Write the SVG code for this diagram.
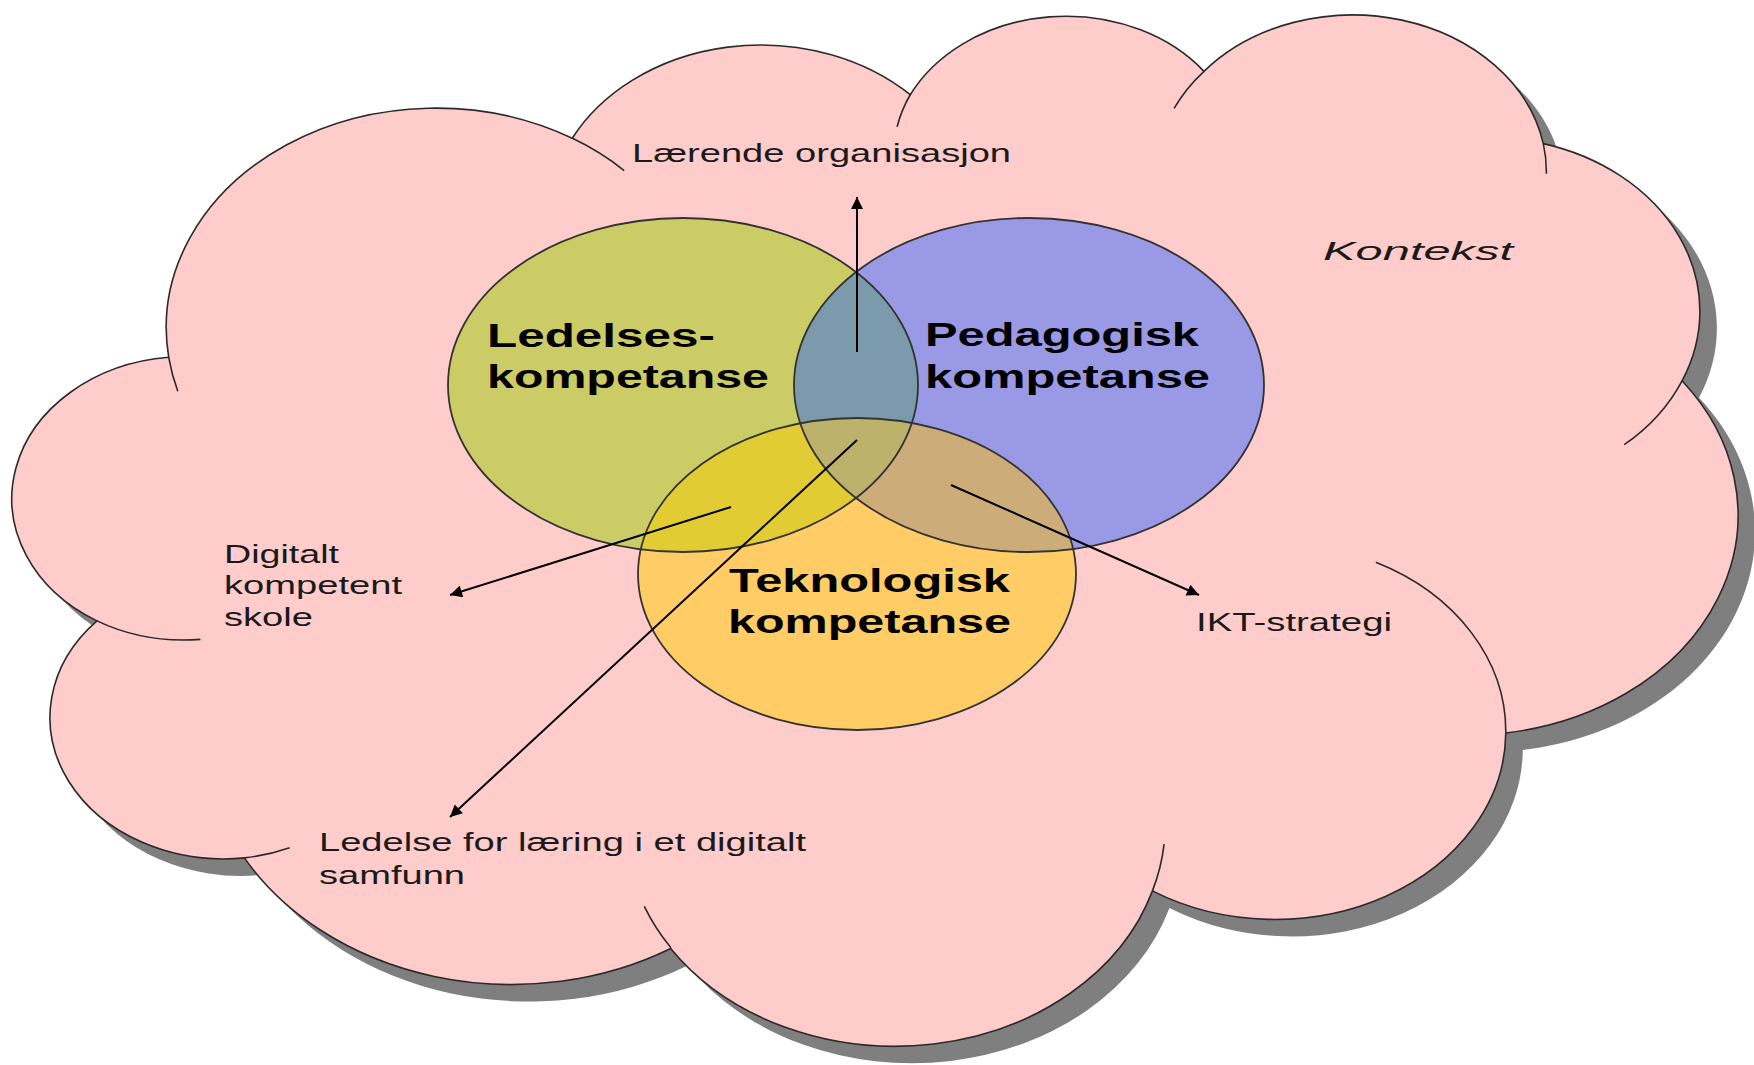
<svg xmlns="http://www.w3.org/2000/svg" width="1754" height="1065" viewBox="0 0 1754 1065">
<style>
.cl{fill:#ffcccc;stroke:#2a2a2a;stroke-width:1.6}
.fold{fill:none;stroke:#2a2a2a;stroke-width:1.6}
.ring{fill:none;stroke:#333;stroke-width:1.8}
.lab{font-family:"Liberation Sans",Arial,sans-serif;font-weight:bold;font-size:34px;fill:#000}
.txt{font-family:"Liberation Sans",Arial,sans-serif;font-size:26px;fill:#1a1a1a}
.con{stroke:#000;stroke-width:2;fill:none;marker-end:url(#ah)}
</style>
<defs>
<marker id="ah" viewBox="0 0 10 10" refX="10" refY="5" markerWidth="15" markerHeight="12" markerUnits="userSpaceOnUse" orient="auto"><path d="M0,0 L10,5 L0,10 z" fill="#000"/></marker>
<filter id="blur" x="-5%" y="-5%" width="110%" height="110%"><feGaussianBlur stdDeviation="1.5"/></filter>
<path id="cloudOuter" d="M3900,14370 A6753,9190 0 0 1 14005,5202 A5333,7267 0 0 1 22470,3380 A4365,5945 0 0 1 29826,2400 A4857,6595 0 0 1 38324,5426 A5333,7273 0 0 1 41798,15354 A6775,9220 0 0 1 37384,30097 A5785,7867 0 0 1 28535,36707 A6752,9215 0 0 1 16470,39120 A7720,10543 0 0 1 5795,35326 A4360,5918 0 0 1 2103,25404 A4345,5945 0 0 1 3900,14370 Z"/>
<ellipse id="eL" cx="683" cy="385" rx="235" ry="167"/>
<ellipse id="eP" cx="1029" cy="385" rx="235" ry="167"/>
<ellipse id="eT" cx="857" cy="574" rx="219" ry="156"/>
<clipPath id="cL"><use href="#eL"/></clipPath>
<clipPath id="cP"><use href="#eP"/></clipPath>
</defs>

<g id="cloud">
<g transform="translate(30,31) scale(0.039931,0.023889)" filter="url(#blur)"><use href="#cloudOuter" fill="#7f7f7f"/></g>
<g transform="translate(13,14) scale(0.039931,0.023889)">
<path class="cl" vector-effect="non-scaling-stroke" d="M3900,14370 A6753,9190 0 0 1 14005,5202 A5333,7267 0 0 1 22470,3380 A4365,5945 0 0 1 29826,2400 A4857,6595 0 0 1 38324,5426 A5333,7273 0 0 1 41798,15354 A6775,9220 0 0 1 37384,30097 A5785,7867 0 0 1 28535,36707 A6752,9215 0 0 1 16470,39120 A7720,10543 0 0 1 5795,35326 A4360,5918 0 0 1 2103,25404 A4345,5945 0 0 1 3900,14370 Z"/>
<path class="fold" vector-effect="non-scaling-stroke" d="M4693,26177 A4345,5945 0 0 1 2103,25404 M6928,34899 A4360,5918 0 0 1 5795,35326 M16478,39090 A6752,9215 0 0 1 15810,37351 M28827,34751 A6752,9215 0 0 1 28535,36707 M34129,22954 A5785,7867 0 0 1 37384,30097 M41798,15354 A5333,7273 0 0 1 40350,18029 M38324,5426 A4857,6595 0 0 1 38400,6690 M29078,3952 A4857,6595 0 0 1 29826,2400 M22141,4720 A4365,5945 0 0 1 22470,3380 M14000,5192 A6753,9190 0 0 1 15306,6552 M4127,15789 A6753,9190 0 0 1 3900,14370"/>
</g>
</g>

<g id="venn-fills">
<use href="#eL" fill="#cccc66"/>
<use href="#eP" fill="#9999e6"/>
<use href="#eT" fill="#ffcc66"/>
<use href="#eP" fill="#7b9aab" clip-path="url(#cL)"/>
<use href="#eT" fill="#e1cc33" clip-path="url(#cL)"/>
<use href="#eT" fill="#ccad7a" clip-path="url(#cP)"/>
<g clip-path="url(#cL)"><g clip-path="url(#cP)"><use href="#eT" fill="#bdb26c"/></g></g>
</g>

<g id="n-ledelse">
<use href="#eL" class="ring"/>
<text class="lab" x="487" y="347" textLength="228" lengthAdjust="spacingAndGlyphs">Ledelses-</text>
<text class="lab" x="487" y="388" textLength="282" lengthAdjust="spacingAndGlyphs">kompetanse</text>
</g>
<g id="n-pedagogisk">
<use href="#eP" class="ring"/>
<text class="lab" x="925" y="346" textLength="274" lengthAdjust="spacingAndGlyphs">Pedagogisk</text>
<text class="lab" x="925" y="388" textLength="285" lengthAdjust="spacingAndGlyphs">kompetanse</text>
</g>
<g id="n-teknologisk">
<use href="#eT" class="ring"/>
<text class="lab" x="729" y="592" textLength="281" lengthAdjust="spacingAndGlyphs">Teknologisk</text>
<text class="lab" x="728" y="633" textLength="283" lengthAdjust="spacingAndGlyphs">kompetanse</text>
</g>

<g id="connectors">
<line class="con" x1="857" y1="352" x2="857" y2="197"/>
<line class="con" x1="731" y1="507" x2="450" y2="595"/>
<line class="con" x1="857" y1="440" x2="450" y2="817"/>
<line class="con" x1="951" y1="485" x2="1199" y2="595"/>
</g>

<g id="n-laerende"><text class="txt" x="632" y="162" textLength="379" lengthAdjust="spacingAndGlyphs">Lærende organisasjon</text></g>
<g id="n-kontekst"><text class="txt" x="1323" y="260" font-size="32" font-style="italic" textLength="190" lengthAdjust="spacingAndGlyphs">Kontekst</text></g>
<g id="n-digitalt">
<text class="txt" x="224" y="563" textLength="115" lengthAdjust="spacingAndGlyphs">Digitalt</text>
<text class="txt" x="224" y="594" textLength="178" lengthAdjust="spacingAndGlyphs">kompetent</text>
<text class="txt" x="224" y="626" textLength="89" lengthAdjust="spacingAndGlyphs">skole</text>
</g>
<g id="n-ikt"><text class="txt" x="1196" y="631" textLength="196" lengthAdjust="spacingAndGlyphs">IKT-strategi</text></g>
<g id="n-ledelse-laering">
<text class="txt" x="319" y="851" textLength="487" lengthAdjust="spacingAndGlyphs">Ledelse for læring i et digitalt</text>
<text class="txt" x="319" y="884" textLength="146" lengthAdjust="spacingAndGlyphs">samfunn</text>
</g>
</svg>
